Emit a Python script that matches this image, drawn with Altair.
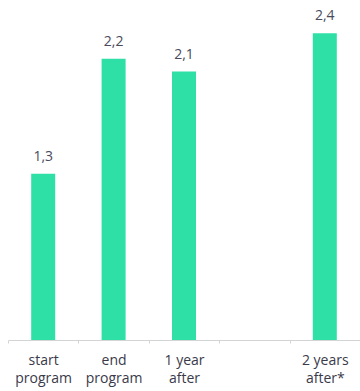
import altair as alt
import pandas as pd

categories = ["start|program", "end|program", "1 year|after", "gap", "2 years|after*"]
values = [1.3, 2.2, 2.1, None, 2.4]
labels = ["1,3", "2,2", "2,1", "", "2,4"]

df = pd.DataFrame({"cat": categories, "value": values, "label": labels})
bars_df = df[df["value"].notna()]

x = alt.X("cat:N", sort=categories,
          scale=alt.Scale(domain=categories, paddingInner=0, paddingOuter=0),
          axis=alt.Axis(title=None, labelAngle=0,
                        labelExpr="isValid(datum.value) && datum.value != 'gap' ? split(datum.value, '|') : ''",
                        labelFont="Open Sans", labelFontSize=14, labelColor="#3a3a4a",
                        labelLineHeight=18, labelPadding=10,
                        domainColor="#d4d4d4", tickColor="#d4d4d4",
                        tickSize=3, tickBand="extent", grid=False))
y = alt.Y("value:Q", scale=alt.Scale(domain=[0, 2.66]), axis=None)

bars = alt.Chart(bars_df).mark_bar(color="#2ee0a6", size=24).encode(x=x, y=y)
text = alt.Chart(bars_df).mark_text(dy=-10, font="Open Sans", fontSize=14,
                                     color="#4a4a5c", baseline="bottom").encode(
    x=x, y=y, text="label:N")

chart = (bars + text).properties(
    width=352, height=340,
    autosize=alt.AutoSizeParams(type="none"),
    padding={"left": 8, "top": 0, "right": 0, "bottom": 51},
).configure_view(stroke=None)

chart.save("out.html", embed_options={"renderer": "svg", "actions": False})
